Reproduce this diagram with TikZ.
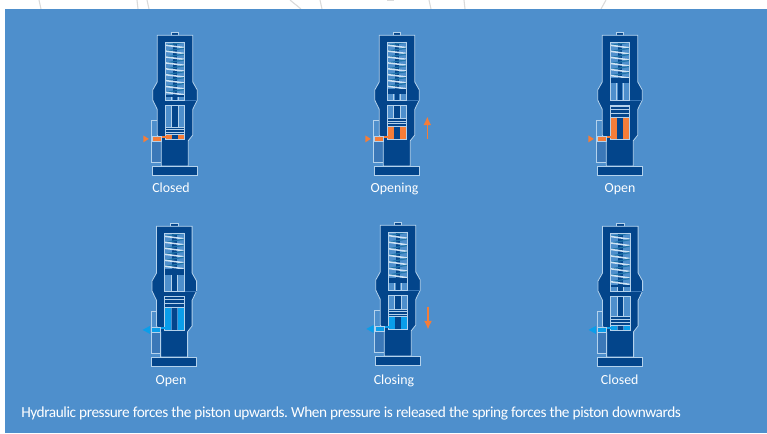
\documentclass[tikz,border=0pt]{standalone}
\usepackage{fontspec}
\setmainfont{Carlito}
\newfontfamily\notefont[LetterSpace=-2.8]{Carlito}
\frenchspacing
\usetikzlibrary{arrows.meta}
\definecolor{bgblue}{HTML}{4E8FCC}
\definecolor{darkblue}{HTML}{03458B}
\definecolor{midblue}{HTML}{3B78B8}
\definecolor{lightline}{HTML}{B4D2EC}
\definecolor{coilfront}{HTML}{CFE3F4}
\definecolor{coilback}{HTML}{1F74A8}
\definecolor{orangef}{HTML}{F57D38}
\definecolor{cyanf}{HTML}{0A9EEA}
\definecolor{ghost}{HTML}{DADADA}
\tikzset{
  outl/.style={draw=lightline,line width=0.6},
  bodyfill/.style={fill=darkblue,outl},
  winfill/.style={fill=bgblue,draw=lightline,line width=0.7},
  pline/.style={draw=lightline,line width=0.55},
  caption/.style={text=white,font=\fontsize{10.4}{12}\selectfont,inner sep=0pt,anchor=base},
  motion/.style={draw=orangef,line width=1.1,-{Latex[length=6.5pt,width=6pt]}},
  ghostline/.style={draw=ghost,line width=0.8},
}
% #1 cx, #2 top y, #3 spring end, #4 plate end, #5 piston top, #6 piston bottom, #7 fluid colour, #8 triangle: 1 = in, 0 = out
\newcommand{\valvedraw}[8]{%
\begin{scope}[shift={(#1,#2)}]
  \fill[bgblue] (-23.3,88) rectangle (-13.7,130.7);
  \fill[midblue] (-23.3,109.7) rectangle (-13.7,130.7);
  \draw[outl] (-17.8,88) -- (-23.3,88) -- (-23.3,130.7) -- (-13.7,130.7);
  \draw[bodyfill] (-3.7,3.3) rectangle (3.7,0);
  \draw[bodyfill] (-17.8,3.3) -- (17.8,3.3) -- (17.8,50) -- (22.3,58) -- (22.3,68) -- (17.8,77.3) -- (17.8,103)
     -- (13.3,108.7) -- (13.3,134) -- (-13.7,134) -- (-13.7,109) -- (-17.8,103) -- (-17.8,77.3) -- (-22.3,68) -- (-22.3,58) -- (-17.8,50) -- cycle;
  \draw[bodyfill] (-22.5,134) rectangle (22.5,143.3);
  \draw[midblue,line width=0.6] (9.7,68.7) -- (22.3,68.7);
  % spring window
  \draw[winfill] (-9.7,10) rectangle (9.7,68.7);
  \fill[darkblue] (-2.2,10) rectangle (2.2,68.7);
  \pgfmathtruncatemacro{\ncoil}{round((#3-10)/6.2)}
  \pgfmathsetmacro{\pitch}{(#3-10)/\ncoil}
  \pgfmathtruncatemacro{\nlast}{\ncoil-1}
  \foreach \i in {0,...,\nlast}{
    \pgfmathsetmacro{\ya}{10.3+\i*\pitch}
    \pgfmathsetmacro{\yb}{\ya+\pitch-0.6}
    \pgfmathsetmacro{\yc}{\ya+0.5*\pitch}
    \draw[coilback,line width=0.9] (-9.3,\yc) -- (9.3,\ya);
    \draw[coilfront,line width=1.15] (-9.3,\yc) -- (9.3,\yb);
  }
  \fill[darkblue] (-9.7,#3) rectangle (9.7,#4);
  \draw[lightline,line width=0.6] (-3.2,#4) -- (-3.2,68.7) (3.2,#4) -- (3.2,68.7);
  \draw[outl] (-9.7,10) rectangle (9.7,68.7);
  % lower cylinder
  \draw[winfill] (-9.7,73.3) rectangle (9.7,107.3);
  \fill[darkblue] (-2.6,73.3) rectangle (2.6,107.3);
  \draw[lightline,line width=0.6] (-3.4,73.3) -- (-3.4,#5) (3.4,73.3) -- (3.4,#5);
  \fill[#7] (-9.7,#6) rectangle (-3.2,107.3);
  \fill[#7] (3.2,#6) rectangle (9.7,107.3);
  \fill[darkblue] (-9.7,#5) rectangle (9.7,#6);
  \pgfmathsetmacro{\stp}{(#6-#5)/3.4}
  \foreach \j in {0,1,2,3}{
    \pgfmathsetmacro{\yl}{#5+\j*\stp+0.3}
    \draw[pline] (-9.7,\yl) -- (9.7,\yl);
  }
  \draw[outl] (-9.7,73.3) rectangle (9.7,107.3);
  % port and channel
  \fill[#7] (-14.5,103.6) rectangle (-9.3,106.4);
  \draw[fill=#7,draw=lightline,line width=0.5] (-22.7,104) rectangle (-14,109.7);
  \ifnum#8=1
    \fill[#7] (-31.7,103.4) -- (-26.2,106.9) -- (-31.7,110.4) -- cycle;
  \else
    \fill[#7] (-24.5,103) -- (-31.7,106.9) -- (-24.5,110.8) -- cycle;
  \fi
\end{scope}}
\begin{document}
\begin{tikzpicture}[x=0.75pt,y=-0.75pt]
\useasboundingbox (0,0) rectangle (767,433);
\fill[white] (0,0) rectangle (767,433);
\coordinate (g1a) at (39,0); \coordinate (g1b) at (41,9);
\coordinate (g2a) at (137,0); \coordinate (g2b) at (138,9);
\coordinate (g3a) at (147,0); \coordinate (g3b) at (149,9);
\coordinate (g4a) at (290,0); \coordinate (g4b) at (301,9);
\coordinate (g5a) at (320,0); \coordinate (g5b) at (322,9);
\coordinate (g6a) at (429,0); \coordinate (g6b) at (431,9);
\coordinate (g7a) at (464,0); \coordinate (g7b) at (465,9);
\coordinate (g8a) at (606,0); \coordinate (g8b) at (601,9);
\coordinate (g9a) at (387,0); \coordinate (g9b) at (394,0);
\draw[ghostline] (g1a) -- (g1b);
\draw[ghostline] (g2a) -- (g2b);
\draw[ghostline] (g3a) -- (g3b);
\draw[ghostline] (g4a) -- (g4b);
\draw[ghostline] (g5a) -- (g5b);
\draw[ghostline] (g6a) -- (g6b);
\draw[ghostline] (g7a) -- (g7b);
\draw[ghostline] (g8a) -- (g8b);
\draw[ghostline,line width=1.6] (g9a) -- (g9b);
\fill[bgblue] (5,9) rectangle (767,433);

\valvedraw{175}{32}{63}{64.7}{94.7}{103}{orangef}{1}
\valvedraw{397}{32}{57}{62}{86.3}{94.7}{orangef}{1}
\valvedraw{620}{32}{46.3}{51.3}{74}{86}{orangef}{1}
\valvedraw{174.3}{223}{46}{51.7}{73}{85}{cyanf}{0}
\valvedraw{398}{222}{56}{61}{86.7}{95}{cyanf}{0}
\valvedraw{620.3}{223}{61.7}{64.3}{93.3}{102.7}{cyanf}{0}

\coordinate (upa) at (427.3,139); \coordinate (upb) at (427.3,116.5);
\draw[motion] (upa) -- (upb);
\coordinate (dna) at (428,306.5); \coordinate (dnb) at (428,329.5);
\draw[motion] (dna) -- (dnb);

\node[caption] (l1) at (171,192) {Closed};
\node[caption] (l2) at (394.5,192) {Opening};
\node[caption] (l3) at (620,192) {Open};
\node[caption] (l4) at (171,384) {Open};
\node[caption] (l5) at (394,384) {Closing};
\node[caption] (l6) at (619.7,384) {Closed};
\node[caption,anchor=base west,font=\notefont\fontsize{11.5}{13}\selectfont] (note) at (21,417.5) {Hydraulic pressure forces the piston upwards. When pressure is released the spring forces the piston downwards};
\end{tikzpicture}
\end{document}
